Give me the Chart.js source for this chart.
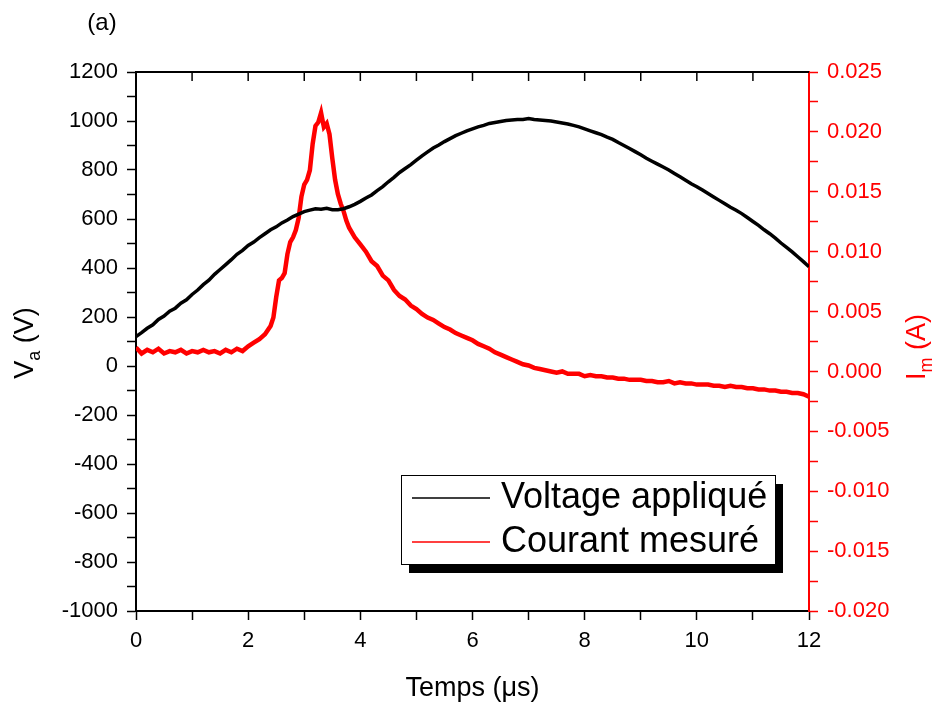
<!DOCTYPE html>
<html>
<head>
<meta charset="utf-8">
<script src="https://cdn.jsdelivr.net/npm/chart.js@4.4.0/dist/chart.umd.min.js"></script>
<style>
  html, body { margin: 0; padding: 0; background: #ffffff; }
  #wrap { width: 940px; height: 707px; }
</style>
</head>
<body>
<div id="wrap"><canvas id="pulseChart" width="940" height="707"></canvas></div>
<script>
// temps (µs) pour la tension appliquée
const voltTime = [
  0.0, 0.1, 0.2, 0.3, 0.4, 0.5, 0.6, 0.7, 0.8, 0.9,
  1.0, 1.1, 1.2, 1.3, 1.4, 1.5, 1.6, 1.7, 1.8, 1.9,
  2.0, 2.1, 2.2, 2.3, 2.4, 2.5, 2.6, 2.7, 2.8, 2.9,
  3.0, 3.1, 3.2, 3.3, 3.4, 3.5, 3.6, 3.7, 3.8, 3.9,
  4.0, 4.1, 4.2, 4.3, 4.4, 4.5, 4.6, 4.7, 4.8, 4.9,
  5.0, 5.1, 5.2, 5.3, 5.4, 5.5, 5.6, 5.7, 5.8, 5.9,
  6.0, 6.1, 6.2, 6.3, 6.4, 6.5, 6.6, 6.7, 6.8, 6.9,
  7.0, 7.1, 7.2, 7.3, 7.4, 7.5, 7.6, 7.7, 7.8, 7.9,
  8.0, 8.1, 8.2, 8.3, 8.4, 8.5, 8.6, 8.7, 8.8, 8.9,
  9.0, 9.1, 9.2, 9.3, 9.4, 9.5, 9.6, 9.7, 9.8, 9.9,
  10.0, 10.1, 10.2, 10.3, 10.4, 10.5, 10.6, 10.7, 10.8, 10.9,
  11.0, 11.1, 11.2, 11.3, 11.4, 11.5, 11.6, 11.7, 11.8, 11.9,
  12.0
];
// tension Va (V)
const voltValues = [
  120, 136, 154, 168, 190, 204, 224, 236, 256, 270,
  292, 310, 332, 350, 374, 394, 414, 434, 456, 472,
  492, 506, 524, 540, 556, 568, 584, 596, 610, 620,
  630, 636, 642, 640, 644, 638, 638, 642, 650, 660,
  672, 686, 698, 716, 732, 752, 770, 790, 806, 822,
  840, 858, 874, 890, 902, 916, 928, 940, 950, 960,
  968, 976, 982, 990, 994, 998, 1002, 1004, 1006, 1006,
  1010, 1006, 1004, 1002, 1000, 996, 992, 988, 982, 976,
  968, 960, 952, 944, 934, 925, 912, 900, 888, 875,
  862, 848, 836, 824, 812, 800, 786, 772, 758, 744,
  732, 718, 704, 690, 676, 662, 648, 636, 622, 606,
  590, 574, 556, 540, 522, 502, 484, 466, 446, 426,
  405
];

// temps (µs) pour le courant mesuré
const currTime = [
  0.0, 0.1, 0.2, 0.3, 0.4, 0.5, 0.6, 0.7, 0.8, 0.9,
  1.0, 1.1, 1.2, 1.3, 1.4, 1.5, 1.6, 1.7, 1.8, 1.9,
  2.0, 2.1, 2.2, 2.3, 2.4, 2.45, 2.5, 2.55, 2.6, 2.65,
  2.7, 2.75, 2.8, 2.85, 2.9, 2.95, 3.0, 3.05, 3.1, 3.15,
  3.2, 3.25, 3.3, 3.35, 3.4, 3.45, 3.5, 3.55, 3.6, 3.65,
  3.7, 3.75, 3.8, 3.9, 4.0, 4.1, 4.2, 4.3, 4.4, 4.5,
  4.6, 4.7, 4.8, 4.9, 5.0, 5.1, 5.2, 5.3, 5.4, 5.5,
  5.6, 5.7, 5.8, 5.9, 6.0, 6.1, 6.2, 6.3, 6.4, 6.5,
  6.6, 6.7, 6.8, 6.9, 7.0, 7.1, 7.2, 7.3, 7.4, 7.5,
  7.6, 7.7, 7.8, 7.9, 8.0, 8.1, 8.2, 8.3, 8.4, 8.5,
  8.6, 8.7, 8.8, 8.9, 9.0, 9.1, 9.2, 9.3, 9.4, 9.5,
  9.6, 9.7, 9.8, 9.9, 10.0, 10.1, 10.2, 10.3, 10.4, 10.5,
  10.6, 10.7, 10.8, 10.9, 11.0, 11.1, 11.2, 11.3, 11.4, 11.5,
  11.6, 11.7, 11.8, 11.9, 12.0
];
// courant Im (A)
const currValues = [
  0.0020, 0.0015, 0.0018, 0.0016, 0.0019, 0.0015, 0.0017, 0.0016, 0.0018, 0.0015,
  0.0017, 0.0016, 0.0018, 0.0016, 0.0017, 0.0015, 0.0018, 0.0016, 0.0019, 0.0017,
  0.0021, 0.0024, 0.0027, 0.0031, 0.0038, 0.0045, 0.0062, 0.0076, 0.0078, 0.0082,
  0.0098, 0.0108, 0.0112, 0.0118, 0.0128, 0.0146, 0.0156, 0.0160, 0.0168, 0.0190,
  0.0205, 0.0208, 0.0216, 0.0204, 0.0207, 0.0198, 0.0178, 0.0160, 0.0148, 0.0140,
  0.0134, 0.0126, 0.0120, 0.0112, 0.0106, 0.0100, 0.0092, 0.0088, 0.0080, 0.0076,
  0.0068, 0.0063, 0.0060, 0.0055, 0.0052, 0.0048, 0.0045, 0.0043, 0.0040, 0.0037,
  0.0035, 0.0032, 0.0030, 0.0028, 0.0026, 0.0023, 0.0021, 0.0019, 0.0016, 0.0014,
  0.0012, 0.0010, 0.0008, 0.0006, 0.0005, 0.0003, 0.0002, 0.0001, 0.0000, -0.0001,
  0.0000, -0.0002, -0.0002, -0.0002, -0.0004, -0.0003, -0.0004, -0.0004, -0.0005, -0.0005,
  -0.0006, -0.0006, -0.0007, -0.0007, -0.0007, -0.0008, -0.0008, -0.0009, -0.0009, -0.0008,
  -0.0010, -0.0009, -0.0010, -0.0010, -0.0011, -0.0011, -0.0011, -0.0012, -0.0012, -0.0013,
  -0.0012, -0.0013, -0.0013, -0.0014, -0.0014, -0.0015, -0.0015, -0.0016, -0.0016, -0.0017,
  -0.0017, -0.0018, -0.0018, -0.0019, -0.0021
];

const seriesNames = ["Voltage appliqué", "Courant mesuré"];
const seriesColors = ["#000000", "#ff0000"];

const FONT = "'Liberation Sans', Arial, sans-serif";

function toPoints(xs, ys) {
  return xs.map((x, i) => ({ x: x, y: ys[i] }));
}

function isMultiple(v, step) {
  return Math.abs(v / step - Math.round(v / step)) < 1e-6;
}

// texte avec indice, pivoté de -90°
function drawRotatedLabel(ctx, cx, baseY, parts, color) {
  ctx.save();
  ctx.translate(cx, baseY);
  ctx.rotate(-Math.PI / 2);
  ctx.fillStyle = color;
  ctx.textBaseline = "alphabetic";
  ctx.textAlign = "left";
  let total = 0;
  parts.forEach(p => { ctx.font = p.size + "px " + FONT; total += ctx.measureText(p.text).width; });
  let x = -total / 2;
  parts.forEach(p => {
    ctx.font = p.size + "px " + FONT;
    ctx.fillText(p.text, x, p.dy);
    x += ctx.measureText(p.text).width;
  });
  ctx.restore();
}

const decorations = {
  id: "decorations",
  afterDraw(chart) {
    const ctx = chart.ctx;
    const area = chart.chartArea;
    const xs = chart.scales.x;

    // cadre du haut avec graduations vers l'intérieur
    ctx.save();
    ctx.strokeStyle = "#000";
    ctx.lineWidth = 2;
    ctx.beginPath();
    ctx.moveTo(area.left, area.top);
    ctx.lineTo(area.right, area.top);
    ctx.stroke();
    ctx.lineWidth = 1.5;
    xs.ticks.forEach(tk => {
      const px = xs.getPixelForValue(tk.value);
      if (px <= area.left + 1 || px >= area.right - 1) return;
      ctx.beginPath();
      ctx.moveTo(px, area.top);
      ctx.lineTo(px, area.top + 9);
      ctx.stroke();
    });
    ctx.restore();

    // titres des axes
    ctx.save();
    ctx.fillStyle = "#000";
    ctx.font = "27px " + FONT;
    ctx.textAlign = "center";
    ctx.textBaseline = "alphabetic";
    ctx.fillText("Temps (\u03bcs)", (area.left + area.right) / 2, 696);
    ctx.font = "24px " + FONT;
    ctx.fillText("(a)", 102, 30);
    ctx.restore();

    drawRotatedLabel(ctx, 33, 343, [
      { text: "V", size: 27, dy: 0 },
      { text: "a", size: 18, dy: 7 },
      { text: " (V)", size: 27, dy: 0 }
    ], "#000");
    drawRotatedLabel(ctx, 925, 347, [
      { text: "I", size: 27, dy: 0 },
      { text: "m", size: 18, dy: 7 },
      { text: " (A)", size: 27, dy: 0 }
    ], "#ff0000");

    // légende encadrée avec ombre
    const bx = 401, by = 475, bw = 374, bh = 89;
    ctx.save();
    ctx.fillStyle = "#000";
    ctx.fillRect(bx + 8, by + 9, bw, bh);
    ctx.fillStyle = "#fff";
    ctx.fillRect(bx, by, bw, bh);
    ctx.strokeStyle = "#000";
    ctx.lineWidth = 1;
    ctx.strokeRect(bx + 0.5, by + 0.5, bw, bh);
    const rows = [498, 542];
    ctx.font = "36px " + FONT;
    ctx.textAlign = "left";
    ctx.textBaseline = "middle";
    seriesNames.forEach((name, i) => {
      ctx.strokeStyle = seriesColors[i];
      ctx.lineWidth = 1.5;
      ctx.beginPath();
      ctx.moveTo(412, rows[i]);
      ctx.lineTo(490, rows[i]);
      ctx.stroke();
      ctx.fillStyle = "#000";
      ctx.fillText(name, 501, rows[i]);
    });
    ctx.restore();
  }
};

new Chart(document.getElementById("pulseChart"), {
  type: "line",
  data: {
    datasets: [
      {
        label: seriesNames[0],
        data: toPoints(voltTime, voltValues),
        borderColor: seriesColors[0],
        borderWidth: 3.5,
        pointRadius: 0,
        tension: 0,
        yAxisID: "y"
      },
      {
        label: seriesNames[1],
        data: toPoints(currTime, currValues),
        borderColor: seriesColors[1],
        borderWidth: 4.5,
        pointRadius: 0,
        tension: 0,
        yAxisID: "y1"
      }
    ]
  },
  options: {
    responsive: false,
    animation: false,
    layout: { padding: { top: 72, left: 0, right: 0, bottom: 0 } },
    plugins: {
      legend: { display: false },
      tooltip: { enabled: false }
    },
    scales: {
      x: {
        type: "linear",
        position: "bottom",
        min: 0,
        max: 12,
        afterFit(s) { s.height = 96; },
        ticks: {
          stepSize: 1,
          autoSkip: false,
          maxRotation: 0,
          padding: 8,
          color: "#000",
          font: { family: FONT, size: 22 },
          callback: v => (isMultiple(v, 2) ? String(Math.round(v)) : "")
        },
        grid: { drawOnChartArea: false, tickLength: 9, tickColor: "#000", tickWidth: 1.5 },
        border: { color: "#000", width: 2 }
      },
      y: {
        position: "left",
        min: -1000,
        max: 1200,
        afterFit(s) { s.width = 136; },
        ticks: {
          stepSize: 100,
          autoSkip: false,
          padding: 9,
          color: "#000",
          font: { family: FONT, size: 22 },
          callback: v => (isMultiple(v, 200) ? String(Math.round(v)) : "")
        },
        grid: { drawOnChartArea: false, tickLength: 9, tickColor: "#000", tickWidth: 1.5 },
        border: { color: "#000", width: 2 }
      },
      y1: {
        position: "right",
        min: -0.02,
        max: 0.025,
        afterFit(s) { s.width = 131; },
        ticks: {
          stepSize: 0.0025,
          autoSkip: false,
          padding: 9,
          color: "#ff0000",
          font: { family: FONT, size: 22 },
          callback: v => {
            if (!isMultiple(v, 0.005)) return "";
            if (Math.abs(v) < 1e-9) return "0.000";
            return v.toFixed(3);
          }
        },
        grid: { drawOnChartArea: false, tickLength: 9, tickColor: "#ff0000", tickWidth: 1.5 },
        border: { color: "#ff0000", width: 2 }
      }
    }
  },
  plugins: [decorations]
});
</script>
</body>
</html>
